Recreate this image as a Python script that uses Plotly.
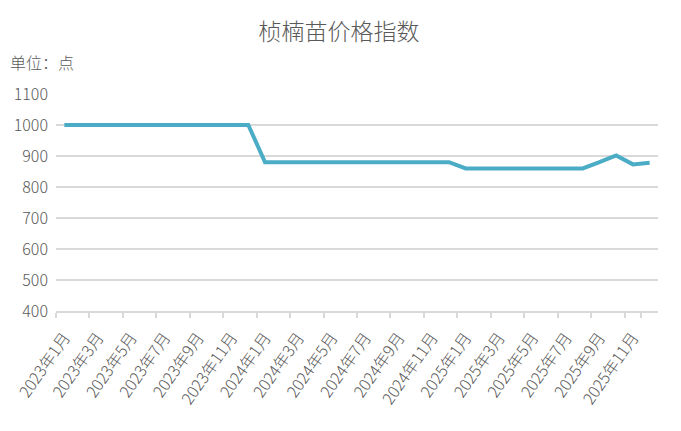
import plotly.graph_objects as go

months = [
    "2023年1月", "2023年2月", "2023年3月", "2023年4月", "2023年5月", "2023年6月",
    "2023年7月", "2023年8月", "2023年9月", "2023年10月", "2023年11月", "2023年12月",
    "2024年1月", "2024年2月", "2024年3月", "2024年4月", "2024年5月", "2024年6月",
    "2024年7月", "2024年8月", "2024年9月", "2024年10月", "2024年11月", "2024年12月",
    "2025年1月", "2025年2月", "2025年3月", "2025年4月", "2025年5月", "2025年6月",
    "2025年7月", "2025年8月", "2025年9月", "2025年10月", "2025年11月", "2025年12月",
]
index_values = [
    1000, 1000, 1000, 1000, 1000, 1000, 1000, 1000, 1000, 1000, 1000, 1000,
    880, 880, 880, 880, 880, 880, 880, 880, 880, 880, 880, 880,
    860, 860, 860, 860, 860, 860, 860, 860, 880, 902, 873, 878,
]
y_ticks = [400, 500, 600, 700, 800, 900, 1000, 1100]
shown_labels = months[::2]

FONT = "Noto Sans CJK SC, sans-serif"
GRAY = "#595959"

W, H = 673, 423          # page body has an 8px margin
L, R, T, B = 48, 23, 86, 120
PH = H - T - B

fig = go.Figure()
fig.add_trace(go.Scatter(
    x=months, y=index_values, mode="lines",
    line=dict(color="#4BACC6", width=4),
    hoverinfo="x+y",
))

fig.update_layout(
    width=W, height=H,
    margin=dict(l=L, r=R, t=T, b=B, autoexpand=False),
    paper_bgcolor="white", plot_bgcolor="white",
    showlegend=False,
    title=dict(text="桢楠苗价格指数", font=dict(family=FONT, size=23, color=GRAY, weight=300),
               x=331 / W, xref="container", xanchor="center",
               y=1 - 24 / H, yref="container", yanchor="middle"),
    font=dict(family=FONT, color=GRAY),
)
fig.update_xaxes(
    type="category", categoryorder="array", categoryarray=months,
    range=[-0.5, len(months) - 0.5],
    tickmode="array", tickvals=shown_labels, ticktext=shown_labels,
    tickson="boundaries", ticks="outside", ticklen=5, tickcolor="#d9d9d9", tickwidth=1.5,
    tickangle=-55, tickfont=dict(family=FONT, size=16, color=GRAY, weight=300),
    ticklabelstandoff=9,
    showgrid=False, showline=True, linecolor="#d9d9d9", linewidth=1.5,
    zeroline=False, automargin=False,
)
fig.update_yaxes(
    range=[400, 1100], tickmode="array", tickvals=y_ticks,
    showgrid=True, gridcolor="#d9d9d9", gridwidth=1.5,
    ticks="", tickfont=dict(family=FONT, size=16, color=GRAY, weight=300),
    showline=False, zeroline=False, ticklabelstandoff=7, automargin=False,
)
fig.add_annotation(
    text="单位：点", xref="paper", yref="paper",
    x=(0 - L) / (W - L - R), y=1 + (T - 54) / PH, xanchor="left", yanchor="middle",
    showarrow=False, font=dict(family=FONT, size=16, color=GRAY, weight=300),
)

fig.write_html("out.html")
